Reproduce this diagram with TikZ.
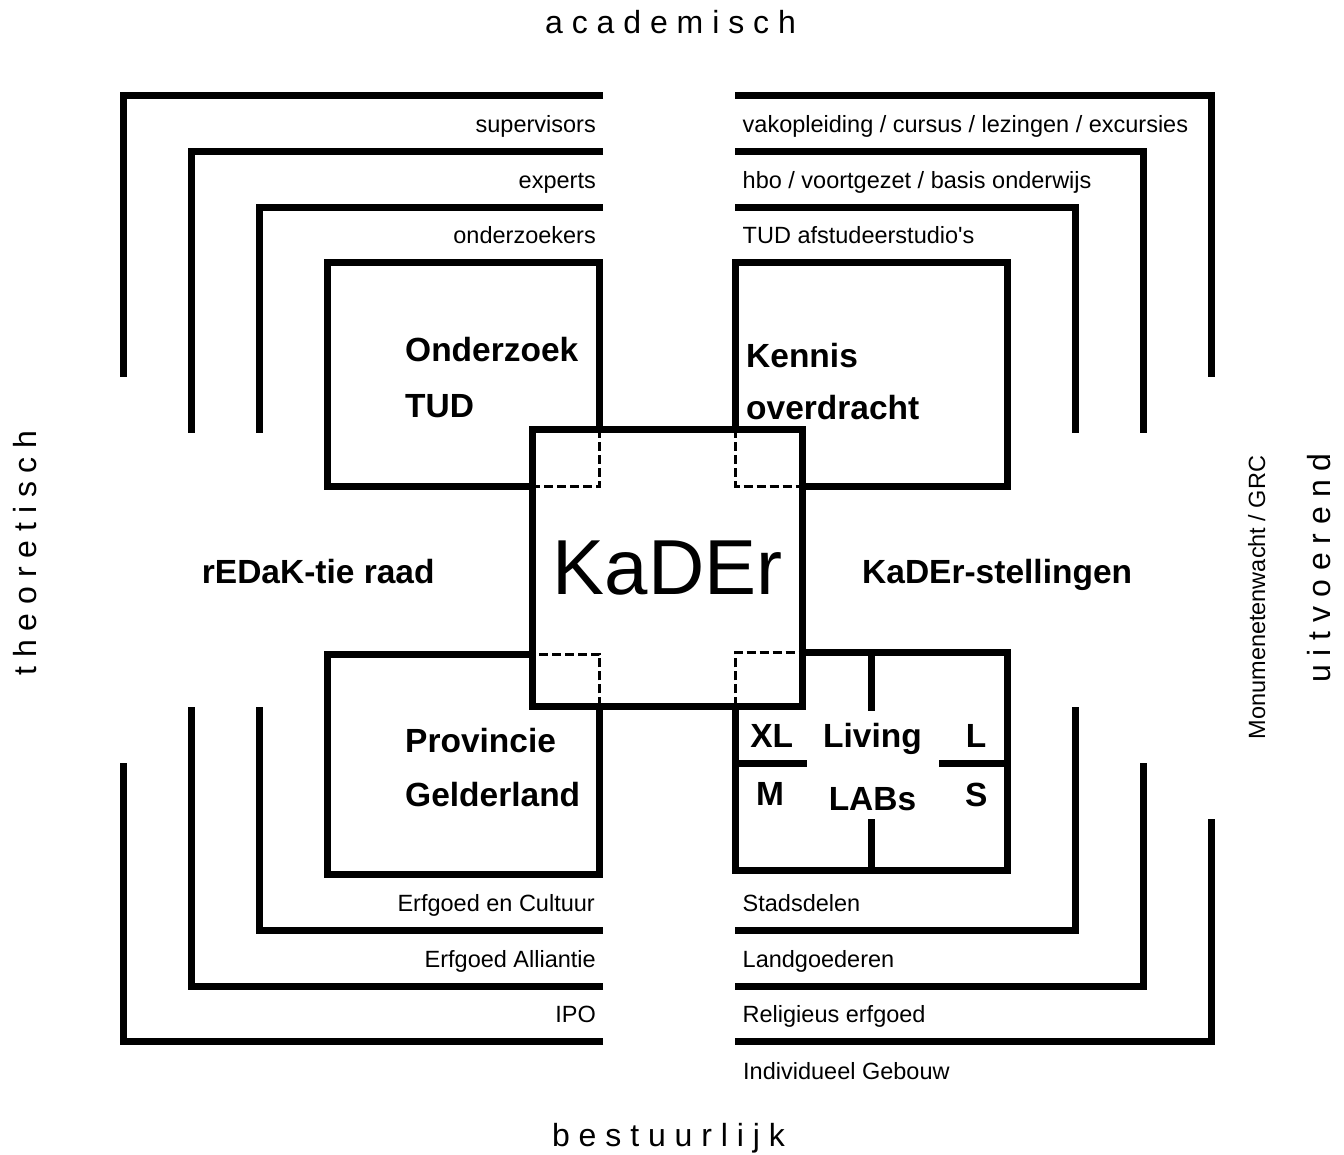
\documentclass[tikz,border=0pt]{standalone}
\usepackage{fontspec}
\setmainfont{Liberation Sans}
\newfontfamily\plainfont{Liberation Sans}
\begin{document}
\begin{tikzpicture}[x=1pt,y=-1pt,
  wall/.style={line width=7pt,line join=miter,line cap=butt},
  overlap/.style={line width=3pt,dash pattern=on 9pt off 4pt},
  small/.style={font=\fontsize{23.5}{28}\selectfont,inner sep=0pt},
  bigbold/.style={font=\fontsize{33.5}{40}\selectfont\bfseries,inner sep=0pt},
  axislabel/.style={font=\fontsize{32}{38}\selectfont,inner sep=0pt}]
\useasboundingbox (0,0) rectangle (1344,1154);
% --- dashed overlaps inside the central box
\draw[overlap] (599.5,429) -- (599.5,486) -- (532,486);
\draw[overlap] (735.7,429) -- (735.7,486) -- (803,486);
\draw[overlap] (599.5,706.3) -- (599.5,654) -- (532,654);
\draw[overlap] (735.7,706.3) -- (735.7,652.3) -- (803,652.3);
% --- top-left
\draw[wall] (603,95.7) -- (123.3,95.7) -- (123.3,377);
\draw[wall] (603,151.7) -- (191.7,151.7) -- (191.7,433);
\draw[wall] (603,207) -- (259.3,207) -- (259.3,433);
\draw[wall] (532,486) -- (327.3,486) -- (327.3,262.3) -- (599.5,262.3) -- (599.5,429);
% --- top-right
\draw[wall] (735,95.7) -- (1211.3,95.7) -- (1211.3,377);
\draw[wall] (735,151.7) -- (1143,151.7) -- (1143,433);
\draw[wall] (735,207) -- (1075.3,207) -- (1075.3,433);
\draw[wall] (803,486) -- (1007.3,486) -- (1007.3,262.3) -- (735.7,262.3) -- (735.7,429);
% --- bottom-left
\draw[wall] (603,930) -- (259.3,930) -- (259.3,707);
\draw[wall] (603,986) -- (191.7,986) -- (191.7,707);
\draw[wall] (603,1041.7) -- (123.3,1041.7) -- (123.3,763);
\draw[wall] (532,654) -- (327.3,654) -- (327.3,874) -- (599.5,874) -- (599.5,706.3);
% --- bottom-right
\draw[wall] (735,930) -- (1075.3,930) -- (1075.3,707);
\draw[wall] (735,986) -- (1143,986) -- (1143,763);
\draw[wall] (735,1041.7) -- (1211.3,1041.7) -- (1211.3,819);
\draw[wall] (803,652.3) -- (1007,652.3) -- (1007,870.3) -- (735.7,870.3) -- (735.7,706.3);
\draw[wall] (871.3,652.3) -- (871.3,710.7);
\draw[wall] (871.3,819) -- (871.3,870.3);
\draw[wall] (735.7,763) -- (807,763);
\draw[wall] (939,763) -- (1007,763);
% --- central box
\node[draw,line width=7pt,minimum width=270.7pt,minimum height=277pt,inner sep=0pt,
      font=\fontsize{78}{90}\selectfont] (kader) at (667.6,567.8) {KaDEr};
% --- axis labels
\node[axislabel,anchor=base] (acad) at (670.5,33) {a c a d e m i s c h};
\node[axislabel,anchor=base] (best) at (668.5,1146) {b e s t u u r l i j k};
\node[axislabel,anchor=base,rotate=90] (theo) at (36.7,553) {t h e o r e t i s c h};
\node[axislabel,anchor=base,rotate=90] (uitv) at (1330,568) {u i t v o e r e n d};
\node[small,anchor=base,rotate=90] (monu) at (1265,597.5) {Monumenetenwacht / GRC};
% --- small labels
\node[small,anchor=base east] (sup) at (596,132.5) {supervisors};
\node[small,anchor=base east] (exp) at (596,188) {experts};
\node[small,anchor=base east] (ond) at (596,243.5) {onderzoekers};
\node[small,anchor=base west] (vak) at (742.5,132.5) {vakopleiding / cursus / lezingen / excursies};
\node[small,anchor=base west] (hbo) at (742.5,188) {hbo / voortgezet / basis onderwijs};
\node[small,anchor=base west] (tud) at (742.5,243.5) {TUD afstudeerstudio{\plainfont'}s};
\node[small,anchor=base east] (ec) at (595,911.5) {Erfgoed en Cultuur};
\node[small,anchor=base east] (ea) at (596,967) {Erfgoed Alliantie};
\node[small,anchor=base east] (ipo) at (596,1022.5) {IPO};
\node[small,anchor=base west] (sd) at (742.5,911.5) {Stadsdelen};
\node[small,anchor=base west] (lg) at (742.5,967) {Landgoederen};
\node[small,anchor=base west] (re) at (742.5,1022.5) {Religieus erfgoed};
\node[small,anchor=base west] (ig) at (743,1079) {Individueel Gebouw};
% --- bold labels
\node[bigbold,anchor=base west] (onz) at (405,361.7) {Onderzoek};
\node[bigbold,anchor=base west] (tudb) at (405,417) {TUD};
\node[bigbold,anchor=base west] (ken) at (746,367.3) {Kennis};
\node[bigbold,anchor=base west] (ovd) at (746,419) {overdracht};
\node[bigbold,anchor=base west] (prov) at (405,752) {Provincie};
\node[bigbold,anchor=base west] (geld) at (405,806.7) {Gelderland};
\node[bigbold,anchor=base west] (red) at (201.7,583.3) {rEDaK-tie raad};
\node[bigbold,anchor=base west] (kst) at (862,583) {KaDEr-stellingen};
\node[bigbold,anchor=base] (liv) at (872.5,747.3) {Living};
\node[bigbold,anchor=base] (labs) at (872.5,810) {LABs};
\node[bigbold,anchor=base] (xl) at (771.7,747) {XL};
\node[bigbold,anchor=base] (ll) at (976,747) {L};
\node[bigbold,anchor=base] (mm) at (770,805.7) {M};
\node[bigbold,anchor=base] (ss) at (976.3,806) {S};
\end{tikzpicture}
\end{document}
